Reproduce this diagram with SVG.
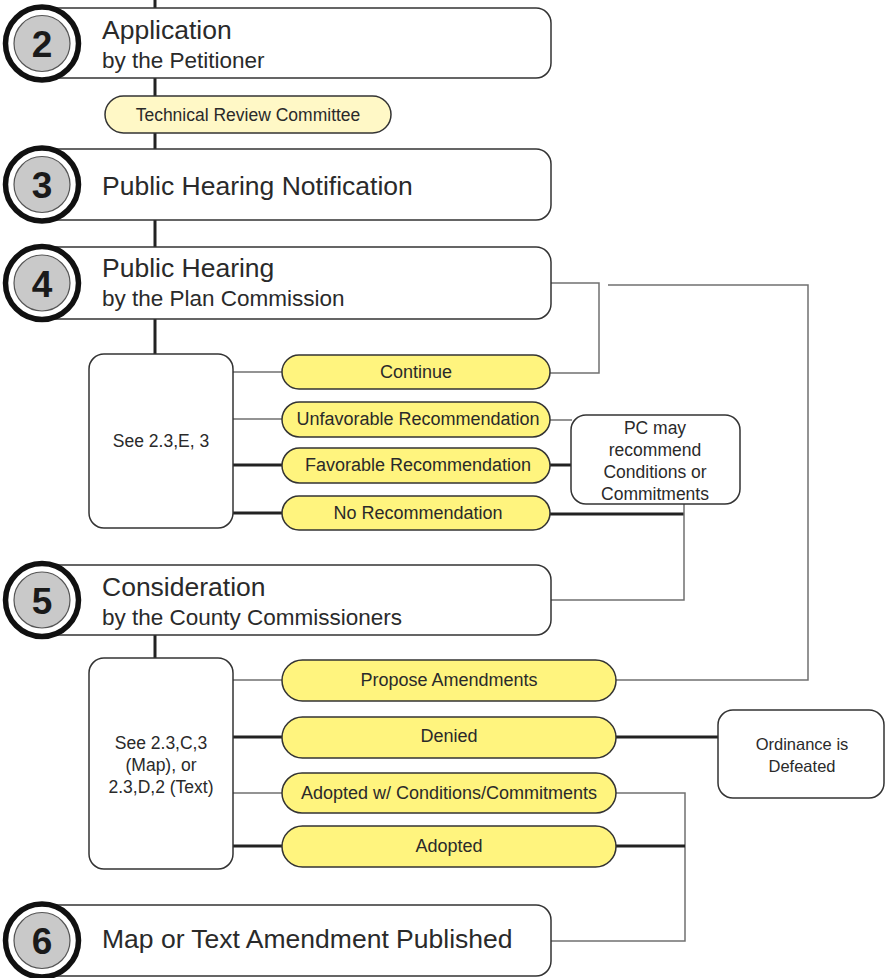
<svg xmlns="http://www.w3.org/2000/svg" width="886" height="978" viewBox="0 0 886 978">
<style>
.box{fill:#fff;stroke:#333;stroke-width:1.5}
.pill{fill:#FFF47E;stroke:#333;stroke-width:1.5}
.pill2{fill:#FFF8C6;stroke:#333;stroke-width:1.5}
.ring{fill:#fff;stroke:#111;stroke-width:5.5}
.core{fill:#c9c9c9;stroke:#555;stroke-width:1.2}
.num{font-family:"Liberation Sans",Arial,sans-serif;font-weight:bold;font-size:37px;fill:#1a1a1a;text-anchor:middle}
.t1{font-family:"Liberation Sans",Arial,sans-serif;font-size:26.5px;fill:#2a2a2a}
.t2{font-family:"Liberation Sans",Arial,sans-serif;font-size:22.5px;fill:#2a2a2a}
.tp{font-family:"Liberation Sans",Arial,sans-serif;font-size:18px;fill:#2a2a2a;text-anchor:middle}
.tb{font-family:"Liberation Sans",Arial,sans-serif;font-size:17.5px;fill:#2a2a2a;text-anchor:middle}
.ts{font-family:"Liberation Sans",Arial,sans-serif;font-size:16.5px;fill:#2a2a2a;text-anchor:middle}
.thin{fill:none;stroke:#707070;stroke-width:1.5}
.thick{fill:none;stroke:#222;stroke-width:3}
</style>
<g id="connectors">
<path class="thick" d="M155 0V8M155 78V149M155 220V247M155 319V354M155 635V658"/>
<path class="thin" d="M233 372H282M233 419H282M233 680H282M233 793H282"/>
<path class="thick" d="M233 465H282M233 513H282M233 737H282M233 846H282"/>
<path class="thin" d="M551 283H599V373H550"/>
<path class="thin" d="M608 285H808V680H616"/>
<path class="thin" d="M550 420H572"/>
<path class="thick" d="M550 465H571"/>
<path class="thick" d="M550 514H684"/>
<path class="thin" d="M684 504V600H551"/>
<path class="thick" d="M616 737H718"/>
<path class="thin" d="M616 793H685V941H551"/>
<path class="thick" d="M616 846H685"/>
</g>
<g id="step2">
<rect class="box" x="40" y="8" width="511" height="70" rx="15"/>
<circle class="ring" cx="42" cy="43.5" r="36.5"/>
<circle class="core" cx="42" cy="43.5" r="28"/>
<text class="num" x="42" y="57">2</text>
<text class="t1" x="102" y="39">Application</text>
<text class="t2" x="102" y="68">by the Petitioner</text>
</g>
<g id="trc">
<rect class="pill2" x="105" y="96" width="286" height="37" rx="18.5"/>
<text class="tb" x="248" y="121">Technical Review Committee</text>
</g>
<g id="step3">
<rect class="box" x="40" y="149" width="511" height="71" rx="15"/>
<circle class="ring" cx="42" cy="184.5" r="36.5"/>
<circle class="core" cx="42" cy="184.5" r="28"/>
<text class="num" x="42" y="198">3</text>
<text class="t1" x="102" y="195">Public Hearing Notification</text>
</g>
<g id="step4">
<rect class="box" x="40" y="247" width="511" height="72" rx="15"/>
<circle class="ring" cx="42" cy="283" r="36.5"/>
<circle class="core" cx="42" cy="283" r="28"/>
<text class="num" x="42" y="296.5">4</text>
<text class="t1" x="102" y="277">Public Hearing</text>
<text class="t2" x="102" y="306">by the Plan Commission</text>
</g>
<g id="see1">
<rect class="box" x="89" y="354" width="144" height="174" rx="15"/>
<text class="tb" x="161" y="447">See 2.3,E, 3</text>
</g>
<g id="continue">
<rect class="pill" x="282" y="355" width="268" height="34" rx="17"/>
<text class="tp" x="416" y="378">Continue</text>
</g>
<g id="unfavorable">
<rect class="pill" x="282" y="402" width="268" height="35" rx="17.5"/>
<text class="tp" x="418" y="425">Unfavorable Recommendation</text>
</g>
<g id="favorable">
<rect class="pill" x="282" y="448" width="268" height="35" rx="17.5"/>
<text class="tp" x="418" y="471">Favorable Recommendation</text>
</g>
<g id="norec">
<rect class="pill" x="282" y="496" width="268" height="34" rx="17"/>
<text class="tp" x="418" y="519">No Recommendation</text>
</g>
<g id="pc">
<rect class="box" x="571" y="415" width="169" height="89" rx="15"/>
<text class="tb" x="655" y="434">PC may</text>
<text class="tb" x="655" y="456">recommend</text>
<text class="tb" x="655" y="478">Conditions or</text>
<text class="tb" x="655" y="500">Commitments</text>
</g>
<g id="step5">
<rect class="box" x="40" y="565" width="511" height="70" rx="15"/>
<circle class="ring" cx="42" cy="600" r="36.5"/>
<circle class="core" cx="42" cy="600" r="28"/>
<text class="num" x="42" y="613.5">5</text>
<text class="t1" x="102" y="596">Consideration</text>
<text class="t2" x="102" y="625">by the County Commissioners</text>
</g>
<g id="see2">
<rect class="box" x="89" y="658" width="144" height="211" rx="15"/>
<text class="tb" x="161" y="749">See 2.3,C,3</text>
<text class="tb" x="161" y="771">(Map), or</text>
<text class="tb" x="161" y="793">2.3,D,2 (Text)</text>
</g>
<g id="propose">
<rect class="pill" x="282" y="660" width="334" height="41" rx="20.5"/>
<text class="tp" x="449" y="686">Propose Amendments</text>
</g>
<g id="denied">
<rect class="pill" x="282" y="717" width="334" height="41" rx="20.5"/>
<text class="tp" x="449" y="742">Denied</text>
</g>
<g id="adoptedcond">
<rect class="pill" x="282" y="773" width="334" height="40" rx="20"/>
<text class="tp" x="449" y="799">Adopted w/ Conditions/Commitments</text>
</g>
<g id="adopted">
<rect class="pill" x="282" y="826" width="334" height="41" rx="20.5"/>
<text class="tp" x="449" y="852">Adopted</text>
</g>
<g id="defeated">
<rect class="box" x="718" y="710" width="166" height="88" rx="15"/>
<text class="ts" x="802" y="750">Ordinance is</text>
<text class="ts" x="802" y="772">Defeated</text>
</g>
<g id="step6">
<rect class="box" x="40" y="905" width="511" height="71" rx="15"/>
<circle class="ring" cx="42" cy="940.5" r="36.5"/>
<circle class="core" cx="42" cy="940.5" r="28"/>
<text class="num" x="42" y="954">6</text>
<text class="t1" x="102" y="948">Map or Text Amendment Published</text>
</g>
</svg>
